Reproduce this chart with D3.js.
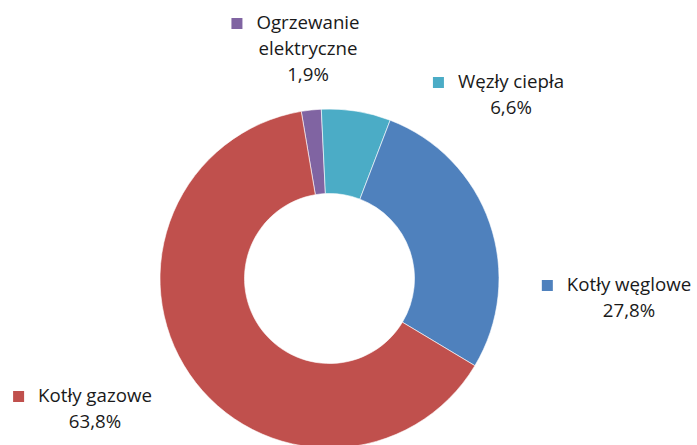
<!DOCTYPE html>
<html>
<head>
<meta charset="utf-8">
<script src="https://cdn.jsdelivr.net/npm/d3@7"></script>
<style>
  body { margin: 0; background: #fff; }
  svg text { font-family: "Open Sans", "Noto Sans", sans-serif; font-size: 18.7px; fill: #1a1a1a; }
</style>
</head>
<body>
<div id="chart"></div>
<script>
// slice data, clockwise from the top
const categories = ['Ogrzewanie elektryczne', 'Węzły ciepła', 'Kotły węglowe', 'Kotły gazowe'];
const values = [1.9, 6.6, 27.8, 63.8];
const valueLabels = ['1,9%', '6,6%', '27,8%', '63,8%'];
const colors = ['#8064A2', '#4BACC6', '#4F81BD', '#C0504D'];

const width = 697, height = 445;
const cx = 329.5, cy = 278.5;
const outerR = 169.5, innerR = 85;

// label layout: centre x, first baseline, lines of the name
const labelPos = [
  {x: 308, y: 29, lines: ['Ogrzewanie', 'elektryczne']},
  {x: 511, y: 88, lines: ['Węzły ciepła']},
  {x: 629, y: 291, lines: ['Kotły węglowe']},
  {x: 95, y: 402, lines: ['Kotły gazowe']}
];
const lineH = 26;

const svg = d3.select('#chart')
  .append('svg')
    .attr('width', width)
    .attr('height', height);

const startAngle = -9.6 * Math.PI / 180;
const pie = d3.pie()
  .sort(null)
  .startAngle(startAngle)
  .endAngle(startAngle + 2 * Math.PI)
  .value(d => d);

const arc = d3.arc().innerRadius(innerR).outerRadius(outerR);

const g = svg.append('g').attr('transform', `translate(${cx}, ${cy})`);

g.selectAll('path')
  .data(pie(values))
  .enter().append('path')
    .attr('d', arc)
    .attr('fill', (d, i) => colors[i])
    .attr('stroke', '#fff')
    .attr('stroke-width', 0.6);

// data labels with a legend key in front of the first line
const labels = svg.selectAll('.label')
  .data(categories)
  .enter().append('g')
    .attr('class', 'label');

labels.each(function(d, i) {
  const el = d3.select(this);
  const p = labelPos[i];
  const lines = [...p.lines, valueLabels[i]];
  const t = el.append('text').attr('text-anchor', 'middle');
  lines.forEach((l, j) => {
    t.append('tspan').attr('x', p.x).attr('y', p.y + j * lineH).text(l);
  });
  const first = t.select('tspan').node().getComputedTextLength();
  el.append('rect')
    .attr('x', p.x - first / 2 - 25)
    .attr('y', p.y - 11)
    .attr('width', 11)
    .attr('height', 11)
    .attr('fill', colors[i]);
});
</script>
</body>
</html>
